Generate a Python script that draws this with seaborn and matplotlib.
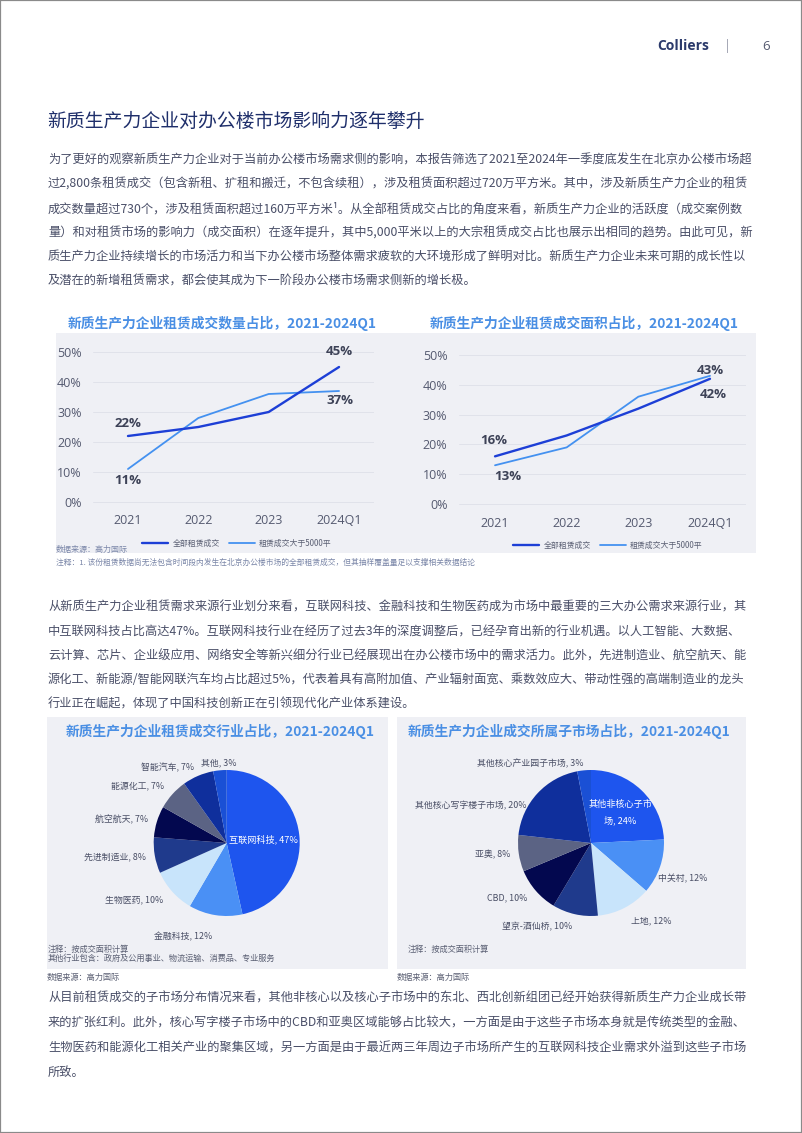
import matplotlib
matplotlib.use('Agg')
import matplotlib.pyplot as plt
from matplotlib.patches import Rectangle
from matplotlib.lines import Line2D
import seaborn as sns
import pandas as pd
import numpy as np

# ---------------- data ----------------
years = ['2021', '2022', '2023', '2024Q1']
series_names = ['全部租赁成交', '租赁成交大于5000平']
count_all = [22, 25, 30, 45]
count_large = [11, 28, 36, 37]
area_all = [16, 23, 32, 42]
area_large = [13, 19, 36, 43]
yticks = [0, 10, 20, 30, 40, 50]

industry_labels = ['互联网科技', '金融科技', '生物医药', '先进制造业', '航空航天', '能源化工', '智能汽车', '其他']
industry_values = [47, 12, 10, 8, 7, 7, 7, 3]
submarket_labels = ['其他非核心子市场', '中关村', '上地', '望京-酒仙桥', 'CBD', '亚奥', '其他核心写字楼子市场', '其他核心产业园子市场']
submarket_values = [24, 12, 12, 10, 10, 8, 20, 3]

header_brand = 'Colliers'
page_no = '6'
main_title = '新质生产力企业对办公楼市场影响力逐年攀升'
para1 = [
    '为了更好的观察新质生产力企业对于当前办公楼市场需求侧的影响，本报告筛选了2021至2024年一季度底发生在北京办公楼市场超',
    '过2,800条租赁成交（包含新租、扩租和搬迁，不包含续租），涉及租赁面积超过720万平方米。其中，涉及新质生产力企业的租赁',
    '成交数量超过730个，涉及租赁面积超过160万平方米¹。从全部租赁成交占比的角度来看，新质生产力企业的活跃度（成交案例数',
    '量）和对租赁市场的影响力（成交面积）在逐年提升，其中5,000平米以上的大宗租赁成交占比也展示出相同的趋势。由此可见，新',
    '质生产力企业持续增长的市场活力和当下办公楼市场整体需求疲软的大环境形成了鲜明对比。新质生产力企业未来可期的成长性以',
    '及潜在的新增租赁需求，都会使其成为下一阶段办公楼市场需求侧新的增长极。',
]
para2 = [
    '从新质生产力企业租赁需求来源行业划分来看，互联网科技、金融科技和生物医药成为市场中最重要的三大办公需求来源行业，其',
    '中互联网科技占比高达47%。互联网科技行业在经历了过去3年的深度调整后，已经孕育出新的行业机遇。以人工智能、大数据、',
    '云计算、芯片、企业级应用、网络安全等新兴细分行业已经展现出在办公楼市场中的需求活力。此外，先进制造业、航空航天、能',
    '源化工、新能源/智能网联汽车均占比超过5%，代表着具有高附加值、产业辐射面宽、乘数效应大、带动性强的高端制造业的龙头',
    '行业正在崛起，体现了中国科技创新正在引领现代化产业体系建设。',
]
para3 = [
    '从目前租赁成交的子市场分布情况来看，其他非核心以及核心子市场中的东北、西北创新组团已经开始获得新质生产力企业成长带',
    '来的扩张红利。此外，核心写字楼子市场中的CBD和亚奥区域能够占比较大，一方面是由于这些子市场本身就是传统类型的金融、',
    '生物医药和能源化工相关产业的聚集区域，另一方面是由于最近两三年周边子市场所产生的互联网科技企业需求外溢到这些子市场',
    '所致。',
]
title_line1 = '新质生产力企业租赁成交数量占比，2021-2024Q1'
title_line2 = '新质生产力企业租赁成交面积占比，2021-2024Q1'
title_pie1 = '新质生产力企业租赁成交行业占比，2021-2024Q1'
title_pie2 = '新质生产力企业成交所属子市场占比，2021-2024Q1'
source_text = '数据来源：高力国际'
note_line = '注释：1. 该份租赁数据尚无法包含时间段内发生在北京办公楼市场的全部租赁成交，但其抽样覆盖量足以支撑相关数据结论'
note_pie1 = ['注释：按成交面积计算', '其他行业包含：政府及公用事业、物流运输、消费品、专业服务']
note_pie2 = ['注释：按成交面积计算']

# ---------------- style ----------------
sns.set_theme(style='white')
plt.rcParams['font.family'] = ['Noto Sans CJK SC', 'DejaVu Sans']

W, H = 802, 1133
C_DARK = '#1d3fd6'
C_LIGHT = '#4491f0'
C_BG = '#eff0f5'
C_BODY = '#4a4f68'
C_TITLE = '#1f2f6b'
C_CTITLE = '#4a8fe4'
C_TICK = '#555a70'
C_LAB = '#3d4257'
C_NOTE = '#7a86a8'
ind_colors = ['#1e55ee', '#4a90f5', '#c8e4fb', '#1f3a8c', '#03084f', '#5b6384', '#0f2f9c', '#1a50d5']
sub_colors = ['#1e55ee', '#4a90f5', '#c8e4fb', '#1f3a8c', '#03084f', '#5b6384', '#0f2f9c', '#1a50d5']


def fx(x):
    return x / W


def fy(y):
    return 1 - y / H


def rect(l, t, r, b):
    return [l / W, 1 - b / H, (r - l) / W, (b - t) / H]


fig = plt.figure(figsize=(W / 100, H / 100), dpi=100)
fig.patch.set_facecolor('white')

# page border
fig.patches.append(Rectangle((0, 0), 1, 1, transform=fig.transFigure, fill=False,
                             edgecolor='#8a8a8a', linewidth=1.6, zorder=10))

# header
fig.text(fx(657), fy(46), header_brand, fontsize=10, fontweight='bold', color='#2b3a6b',
         family='Open Sans', va='center', ha='left')
fig.text(fx(727), fy(46), '|', fontsize=9, color='#8a8fa0', va='center', ha='center')
fig.text(fx(766), fy(46), page_no, fontsize=9.5, color='#555a70', family='Open Sans',
         va='center', ha='center')

# main title
fig.text(fx(47), fy(121), main_title, fontsize=13.6, color=C_TITLE, va='center', ha='left')


def paragraph(lines, y0, step=24.1):
    for i, line in enumerate(lines):
        fig.text(fx(48), fy(y0 + i * step), line, fontsize=8.8, color=C_BODY,
                 va='center', ha='left')


paragraph(para1, 160.5)
paragraph(para2, 607.5)
paragraph(para3, 998.5, step=24.8)

# ---------------- line charts ----------------
fig.patches.append(Rectangle((fx(56), fy(553)), (756 - 56) / W, (553 - 333) / H,
                             transform=fig.transFigure, facecolor=C_BG, edgecolor='none', zorder=-5))


def line_chart(box, all_vals, large_vals, label_specs, title, title_x, legend_x, legend_y, ypad, xpad):
    ax = fig.add_axes(rect(*box))
    ax.set_facecolor('none')
    df = pd.DataFrame({'year': years * 2,
                       'value': all_vals + large_vals,
                       'series': [series_names[0]] * len(years) + [series_names[1]] * len(years)})
    sns.lineplot(data=df[df.series == series_names[1]], x='year', y='value', color=C_LIGHT,
                 linewidth=1.3, ax=ax, legend=False)
    sns.lineplot(data=df[df.series == series_names[0]], x='year', y='value', color=C_DARK,
                 linewidth=1.7, ax=ax, legend=False)
    ax.set_xlim(-0.5, 3.5)
    ax.set_ylim(-2, 52)
    ax.set_yticks(yticks)
    ax.set_yticklabels([f'{t}%' for t in yticks])
    ax.set_xlabel('')
    ax.set_ylabel('')
    for s in ax.spines.values():
        s.set_visible(False)
    ax.yaxis.grid(True, color='#e0e2ea', linewidth=0.7)
    ax.xaxis.grid(False)
    ax.tick_params(axis='both', length=0, labelsize=9, labelcolor=C_TICK, labelfontfamily='Open Sans')
    ax.tick_params(axis='y', pad=ypad)
    ax.tick_params(axis='x', pad=xpad)
    vals = [all_vals, large_vals]
    for si, pi, dx, dy in label_specs:
        v = vals[si][pi]
        ax.annotate(f'{v}%', (pi, v), xytext=(dx, dy), textcoords='offset points',
                    ha='center', va='center', fontsize=9.5, fontweight='bold', color=C_LAB,
                    family='Open Sans', annotation_clip=False)
    fig.text(fx(title_x), fy(323), title, fontsize=9.9, fontweight='bold', color=C_CTITLE,
             ha='center', va='center')
    handles = [Line2D([], [], color=C_DARK, lw=1.7), Line2D([], [], color=C_LIGHT, lw=1.3)]
    fig.legend(handles, series_names, loc='center', bbox_to_anchor=(fx(legend_x), fy(legend_y)),
               ncol=2, frameon=False, fontsize=5.7, handlelength=3.3, handletextpad=0.5,
               columnspacing=1.2, labelcolor='#5a5f73')
    return ax


line_chart((92.8, 346, 374.2, 508), count_all, count_large,
           [(0, 0, 0, 9), (1, 0, 0, -8), (0, 3, 0, 11.5), (1, 3, 1, -7)],
           title_line1, 222, 237, 543, 8, 4.5)
line_chart((459.2, 349, 745.8, 510), area_all, area_large,
           [(0, 0, -1, 11.5), (1, 0, 9, -8), (1, 3, 0, 4), (0, 3, 2, -11)],
           title_line2, 584, 608, 545, 8.5, 5)

fig.text(fx(56), fy(549), source_text, fontsize=5.8, color=C_NOTE, ha='left', va='center')
fig.text(fx(56), fy(563), note_line, fontsize=5.6, color=C_NOTE, ha='left', va='center')

# ---------------- pie charts ----------------
for l, r in [(47, 388), (397, 746)]:
    fig.patches.append(Rectangle((fx(l), fy(969)), (r - l) / W, (969 - 717) / H,
                                 transform=fig.transFigure, facecolor=C_BG, edgecolor='none', zorder=-5))


def pie_chart(cx, cy, rad, values, labels, colors, dists, has, turns, inside, title, title_x):
    ax = fig.add_axes(rect(cx - rad, cy - rad, cx + rad, cy + rad))
    ax.set_facecolor('none')
    wedges, _ = ax.pie(values, colors=colors, startangle=90, counterclock=False, radius=1,
                       wedgeprops=dict(linewidth=0))
    ax.set_xlim(-1, 1)
    ax.set_ylim(-1, 1)
    ax.set_aspect('equal')
    ax.axis('off')
    for i, (w, lab, v) in enumerate(zip(wedges, labels, values)):
        ang = np.deg2rad((w.theta1 + w.theta2) / 2 + turns[i])
        d = dists[i]
        txt = f'{lab}, {v}%'
        if i in inside:
            if len(lab) > 6:
                txt = lab[:7] + '\n' + lab[7:] + f', {v}%'
            ax.text(d * np.cos(ang), d * np.sin(ang), txt, ha='center', va='center',
                    fontsize=6.6, color='white', linespacing=1.9, clip_on=False)
        else:
            ax.text(d * np.cos(ang), d * np.sin(ang), txt, ha=has[i], va='center',
                    fontsize=6.4, color='#4a4f66', clip_on=False)
    fig.text(fx(title_x), fy(731), title, fontsize=9.9, fontweight='bold', color=C_CTITLE,
             ha='center', va='center')
    return ax


pie_chart(226.7, 843, 73, industry_values, industry_labels, ind_colors,
          [0.5, 1.3, 1.17, 1.12, 1.12, 1.15, 1.13, 1.1],
          ['center', 'right', 'right', 'right', 'right', 'right', 'right', 'center'],
          [0, 0, 0, 0, 0, 0, 0, 0],
          [0], title_pie1, 220)
pie_chart(591, 843, 73, submarket_values, submarket_labels, sub_colors,
          [0.58, 1.04, 1.2, 1.18, 1.15, 1.12, 1.02, 1.1],
          ['center', 'left', 'left', 'right', 'right', 'right', 'right', 'right'],
          [0, -9, 0, 0, 0, 0, 13, 0],
          [0], title_pie2, 569)

for i, t in enumerate(note_pie1):
    fig.text(fx(48), fy(949 + i * 9.5), t, fontsize=5.9, color='#5a5f73', ha='left', va='center')
for i, t in enumerate(note_pie2):
    fig.text(fx(408), fy(949 + i * 9.5), t, fontsize=5.9, color='#5a5f73', ha='left', va='center')
fig.text(fx(47), fy(977), source_text, fontsize=5.9, color='#5a5f73', ha='left', va='center')
fig.text(fx(397), fy(977), source_text, fontsize=5.9, color='#5a5f73', ha='left', va='center')

fig.savefig('out.png', dpi=100)
